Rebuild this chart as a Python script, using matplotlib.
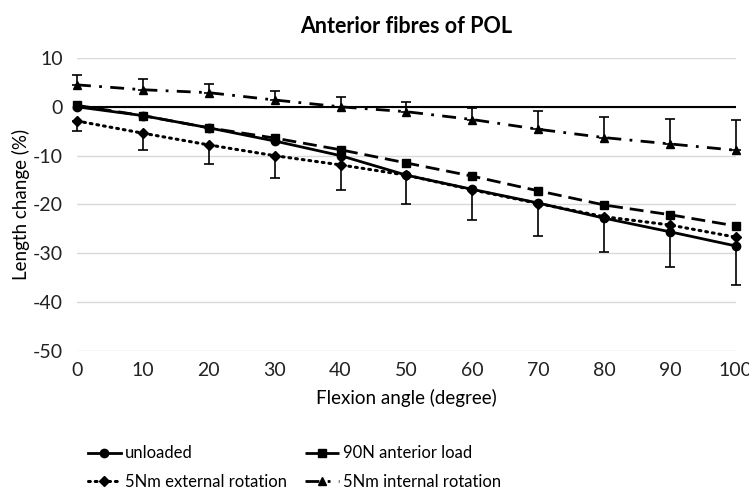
import matplotlib
matplotlib.use("Agg")
import matplotlib.pyplot as plt
import numpy as np

angles = [0, 10, 20, 30, 40, 50, 60, 70, 80, 90, 100]
unloaded = [0.0, -1.8, -4.3, -7.0, -10.0, -14.0, -16.9, -19.7, -22.8, -25.6, -28.5]
anterior_load = [0.3, -1.8, -4.3, -6.4, -8.8, -11.5, -14.2, -17.2, -20.1, -22.1, -24.4]
external_rot = [-2.9, -5.4, -7.8, -10.0, -11.9, -14.0, -17.0, -19.8, -22.5, -24.2, -26.7]
external_err = [2.1, 3.4, 4.0, 4.5, 5.1, 5.9, 6.1, 6.7, 7.3, 8.6, 9.8]
internal_rot = [4.5, 3.5, 2.9, 1.4, 0.0, -1.0, -2.6, -4.6, -6.3, -7.6, -8.9]
internal_err = [2.1, 2.2, 1.8, 1.9, 2.0, 2.0, 2.4, 3.7, 4.2, 5.1, 6.3]

yticks = [10, 0, -10, -20, -30, -40, -50]
xticks = angles

plt.rcParams['font.family'] = ['Lato', 'DejaVu Sans']
plt.rcParams['axes.unicode_minus'] = False

fig = plt.figure(figsize=(7.49, 4.94), dpi=100)
ax = fig.add_axes([0.1028, 0.2895, 0.8798, 0.5931])

ax.set_xlim(0, 100)
ax.set_ylim(-50, 10)
ax.set_yticks(yticks)
ax.set_xticks(xticks)
ax.yaxis.grid(True, color='#d9d9d9', linewidth=1)
ax.set_axisbelow(True)
for s in ax.spines.values():
    s.set_visible(False)
ax.tick_params(length=0, labelsize=14, colors='#222222', pad=10)
ax.tick_params(axis='x', pad=8)
ax.axhline(0, color='black', linewidth=1.5, zorder=1)

kw = dict(color='black', linewidth=2, markersize=6, clip_on=False, zorder=3)
l1, = ax.plot(angles, unloaded, linestyle='-', marker='o', label='unloaded', **kw)
l2, = ax.plot(angles, anterior_load, linestyle=(0, (5, 2.5)), marker='s', label='90N anterior load', **kw)
l3, = ax.plot(angles, external_rot, linestyle=(0, (0.6, 1.6)), marker='D', markersize=5, color='black',
              linewidth=2.2, clip_on=False, zorder=3, label='5Nm external rotation', dash_capstyle='round')
l4, = ax.plot(angles, internal_rot, linestyle=(0, (5, 3, 1, 3)), marker='^', label='5Nm internal rotation', **kw)

ax.errorbar(angles, external_rot, yerr=[external_err, [0]*len(angles)], fmt='none',
            ecolor='black', elinewidth=1.2, capsize=3.5, capthick=1.2, zorder=4, clip_on=False)
ax.errorbar(angles, internal_rot, yerr=[[0]*len(angles), internal_err], fmt='none',
            ecolor='black', elinewidth=1.2, capsize=3.5, capthick=1.2, zorder=4, clip_on=False)

ax.set_title('Anterior fibres of POL', fontsize=15.5, fontweight='bold', pad=18)
ax.set_ylabel('Length change (%)', fontsize=13.5, labelpad=2)
ax.set_xlabel('Flexion angle (degree)', fontsize=13.5, labelpad=7)

fig.legend(handles=[l1, l3, l2, l4], loc='upper left', bbox_to_anchor=(0.108, 0.112), ncol=2,
           frameon=False, fontsize=12, handlelength=2.0, handletextpad=0.25,
           columnspacing=1.1, labelspacing=0.75, borderaxespad=0)

fig.savefig('out.png', dpi=100)
